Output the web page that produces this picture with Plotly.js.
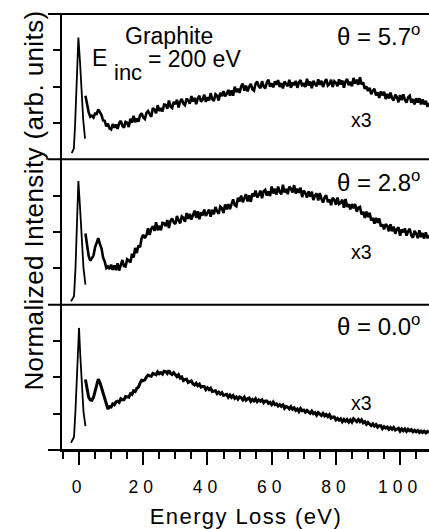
<!DOCTYPE html>
<html><head><meta charset="utf-8">
<script src="https://cdn.plot.ly/plotly-3.0.1.min.js"></script>
<style>
html,body{margin:0;padding:0;background:#fff;}
#chart{width:429px;height:529px;}
.xtick text{letter-spacing:5px;}
.annotation[data-index="0"] text{letter-spacing:0.4px;}
.annotation[data-index="1"] text{letter-spacing:1.4px;}
</style></head>
<body><div id="chart"></div>
<script>
// ---------- data ----------
const energyLoss = [2,2.5,3,3.5,4,4.5,5,5.5,6,6.5,7,7.5,8,8.5,9,9.5,10,10.5,11,11.5,12,12.5,13,13.5,14,14.5,15,15.5,16,16.5,17,17.5,18,18.5,19,19.5,20,20.5,21,21.5,22,22.5,23,23.5,24,24.5,25,25.5,26,26.5,27,27.5,28,28.5,29,29.5,30,30.5,31,31.5,32,32.5,33,33.5,34,34.5,35,35.5,36,36.5,37,37.5,38,38.5,39,39.5,40,40.5,41,41.5,42,42.5,43,43.5,44,44.5,45,45.5,46,46.5,47,47.5,48,48.5,49,49.5,50,50.5,51,51.5,52,52.5,53,53.5,54,54.5,55,55.5,56,56.5,57,57.5,58,58.5,59,59.5,60,60.5,61,61.5,62,62.5,63,63.5,64,64.5,65,65.5,66,66.5,67,67.5,68,68.5,69,69.5,70,70.5,71,71.5,72,72.5,73,73.5,74,74.5,75,75.5,76,76.5,77,77.5,78,78.5,79,79.5,80,80.5,81,81.5,82,82.5,83,83.5,84,84.5,85,85.5,86,86.5,87,87.5,88,88.5,89,89.5,90,90.5,91,91.5,92,92.5,93,93.5,94,94.5,95,95.5,96,96.5,97,97.5,98,98.5,99,99.5,100,100.5,101,101.5,102,102.5,103,103.5,104,104.5,105,105.5,106,106.5,107,107.5,108,108.5,109];

const intensityX3_57 = [
1.75,1.47,1.30,1.17,1.20,1.15,1.26,1.25,1.37,1.30,
1.22,1.07,1.06,0.91,0.98,0.85,0.82,0.97,0.87,0.96,
0.84,0.99,1.06,0.93,0.87,1.03,1.01,0.89,1.12,1.01,
1.20,1.02,1.12,1.04,1.21,1.27,1.15,1.11,1.28,1.33,
1.26,1.17,1.41,1.37,1.27,1.49,1.33,1.41,1.32,1.51,
1.50,1.39,1.62,1.45,1.41,1.58,1.52,1.64,1.43,1.59,
1.66,1.53,1.49,1.67,1.62,1.53,1.74,1.59,1.69,1.52,
1.68,1.75,1.59,1.64,1.78,1.58,1.71,1.62,1.82,1.66,
1.61,1.79,1.75,1.62,1.83,1.74,1.88,1.73,1.81,1.91,
1.75,1.90,1.75,2.00,1.85,1.94,1.83,2.01,2.08,1.89,
2.03,1.87,2.00,2.08,1.93,1.89,2.08,2.14,2.01,1.96,
2.15,2.01,1.95,2.12,2.19,2.00,2.09,1.98,2.15,2.05,
2.18,1.99,2.10,1.95,2.14,2.08,2.01,2.19,1.97,2.12,
2.04,2.16,1.97,2.12,2.18,2.01,2.10,1.99,2.22,2.03,
2.14,1.96,2.16,2.08,2.01,2.20,2.05,2.16,1.99,2.12,
2.21,2.03,2.07,2.19,1.99,2.15,2.11,2.01,2.20,2.06,
2.17,1.97,2.14,2.21,2.04,2.13,2.01,2.24,2.08,2.19,
2.05,2.26,2.06,2.12,1.94,2.01,1.88,1.97,1.79,1.89,
1.94,1.76,1.84,1.69,1.87,1.76,1.86,1.66,1.80,1.68,
1.84,1.68,1.62,1.78,1.72,1.57,1.77,1.63,1.79,1.64,
1.56,1.71,1.75,1.56,1.66,1.51,1.68,1.56,1.68,1.51,
1.65,1.51,1.61,1.45,1.55];

const intensityX3_28 = [
1.96,1.58,1.34,1.21,1.27,1.35,1.58,1.69,1.83,1.67,
1.55,1.30,1.19,1.01,1.05,0.98,1.10,0.96,1.08,0.95,
1.14,0.94,1.12,1.23,1.06,1.05,1.25,1.22,1.16,1.40,
1.30,1.56,1.42,1.63,1.58,1.83,1.92,1.83,1.91,2.10,
1.92,2.09,2.16,2.03,2.27,2.05,2.17,2.05,2.25,2.24,
2.16,2.33,2.11,2.31,2.37,2.26,2.22,2.44,2.32,2.24,
2.43,2.39,2.28,2.52,2.36,2.50,2.34,2.47,2.59,2.39,
2.57,2.35,2.54,2.46,2.62,2.44,2.54,2.62,2.42,2.61,
2.49,2.69,2.57,2.50,2.70,2.66,2.52,2.76,2.62,2.77,
2.63,2.79,2.90,2.74,2.71,2.94,2.84,3.00,2.82,2.93,
3.04,2.84,3.01,2.83,3.06,2.98,3.14,2.95,3.02,3.14,
2.93,3.12,3.16,3.00,3.12,2.99,3.25,3.06,3.19,3.03,
3.25,3.10,3.04,3.30,3.09,3.19,3.04,3.25,3.19,3.09,
3.29,3.06,3.19,3.08,3.22,2.96,3.14,3.07,2.95,3.12,
2.97,3.11,2.88,3.01,3.06,2.87,3.07,2.91,2.81,2.96,
3.01,2.82,2.90,2.74,2.94,2.89,2.75,2.95,2.77,2.80,
2.89,2.67,2.91,2.69,2.77,2.62,2.77,2.65,2.77,2.56,
2.67,2.69,2.48,2.56,2.39,2.56,2.41,2.53,2.32,2.39,
2.23,2.39,2.25,2.37,2.15,2.21,2.07,2.22,2.17,2.02,
2.21,2.02,2.15,1.95,2.08,2.13,1.90,2.07,1.99,2.10,
1.90,2.02,2.09,1.90,1.84,2.03,1.96,1.83,2.05,1.86,
1.97,1.82,1.99,1.83,1.91];

const intensityX3_00 = [
1.94,1.66,1.45,1.38,1.37,1.45,1.62,1.80,1.95,1.86,
1.72,1.55,1.39,1.23,1.13,1.19,1.18,1.27,1.24,1.32,
1.34,1.31,1.41,1.38,1.38,1.47,1.47,1.45,1.55,1.53,
1.63,1.61,1.70,1.73,1.84,1.92,1.91,1.93,2.01,2.06,
2.04,2.03,2.11,2.10,2.07,2.15,2.10,2.13,2.09,2.17,
2.16,2.11,2.19,2.11,2.08,2.13,2.08,2.02,2.07,1.98,
2.01,1.91,1.94,1.95,1.86,1.87,1.90,1.82,1.79,1.84,
1.77,1.81,1.73,1.75,1.75,1.66,1.71,1.66,1.70,1.61,
1.63,1.63,1.55,1.59,1.54,1.58,1.50,1.51,1.53,1.45,
1.51,1.45,1.50,1.42,1.46,1.40,1.46,1.44,1.38,1.45,
1.37,1.41,1.43,1.34,1.39,1.35,1.41,1.33,1.38,1.34,
1.38,1.30,1.35,1.35,1.28,1.31,1.25,1.32,1.25,1.27,
1.21,1.25,1.20,1.24,1.15,1.20,1.18,1.13,1.19,1.12,
1.16,1.09,1.13,1.06,1.14,1.08,1.10,1.04,1.09,1.05,
1.01,1.07,1.00,1.03,0.96,1.03,1.00,0.95,1.01,0.94,
0.98,0.92,0.97,0.88,0.91,0.91,0.83,0.87,0.82,0.86,
0.78,0.84,0.79,0.84,0.77,0.83,0.77,0.86,0.82,0.78,
0.84,0.78,0.83,0.75,0.78,0.71,0.76,0.72,0.67,0.72,
0.66,0.70,0.63,0.67,0.67,0.59,0.64,0.60,0.63,0.57,
0.62,0.57,0.62,0.55,0.58,0.60,0.52,0.58,0.53,0.58,
0.51,0.57,0.53,0.56,0.50,0.54,0.50,0.54,0.48,0.52,
0.48,0.52,0.47,0.51,0.48];

const elasticE_57 = [-2.28,-1.6,-1.2,-0.7,-0.2,0.3,0.8,1.3,1.87];
const elasticI_57 = [0.17,0.30,1.0,2.2,3.35,2.7,1.8,1.1,0.57];
const elasticE_28 = [-2.5,-1.56,-1.1,-0.6,-0.2,0.3,0.8,1.4,2.0];
const elasticI_28 = [0.09,0.23,1.0,2.3,3.4,2.7,1.8,1.0,0.55];
const elasticE_00 = [-2.5,-1.56,-1.1,-0.6,0.0,0.4,0.9,1.4,2.0];
const elasticI_00 = [0.20,0.36,1.1,2.3,3.36,2.6,1.7,1.05,0.66];

const thetaLabels = ['5.7','2.8','0.0'];
const scaleLabel = 'x3';
const xTickVals = [0,20,40,60,80,100];

// ---------- layout helpers (pixel -> paper) ----------
const W = 429, H = 529, L = 62, R = 0, T = 14, B = 79;
const pw = W - L - R, ph = H - T - B;
const px = v => (v - L) / pw;
const py = v => (H - B - v) / ph;

const font = '"Liberation Sans", Arial, Helvetica, sans-serif';
const black = '#000';

const traces = [];
const panels = [
  {ax:'y',  e:elasticE_57, i:elasticI_57, x3:intensityX3_57, w:2.6},
  {ax:'y2', e:elasticE_28, i:elasticI_28, x3:intensityX3_28, w:2.6},
  {ax:'y3', e:elasticE_00, i:elasticI_00, x3:intensityX3_00, w:3.0}
];
panels.forEach(p => {
  traces.push({x:p.e, y:p.i, yaxis:p.ax, xaxis:'x', mode:'lines', line:{color:black, width:1.8}, hoverinfo:'skip', showlegend:false});
  traces.push({x:energyLoss, y:p.x3, yaxis:p.ax, xaxis:'x', mode:'lines', line:{color:black, width:p.w}, hoverinfo:'skip', showlegend:false});
});

const yax = dom => ({
  domain: dom, range:[0,4], showgrid:false, zeroline:false,
  showline:true, linecolor:black, linewidth:2,
  tickmode:'array', tickvals:[1,2,3], ticks:'outside', ticklen:7, tickwidth:2, tickcolor:black,
  showticklabels:false, fixedrange:true, anchor:'x'
});

const annotations = [
  {text:'Normalized Intensity (arb. units)', textangle:-90, xref:'paper', yref:'paper', x:px(34), y:py(201), xanchor:'center', yanchor:'middle', showarrow:false, font:{family:font, size:26, color:black}},
  {text:'Energy Loss (eV)', xref:'paper', yref:'paper', x:px(246), y:py(516), xanchor:'center', yanchor:'middle', showarrow:false, font:{family:font, size:22, color:black}},
  {text:'Graphite', xref:'paper', yref:'paper', x:px(169), y:py(36), xanchor:'center', yanchor:'middle', showarrow:false, borderpad:0, font:{family:font, size:23, color:black}},
  {text:'E', xref:'paper', yref:'paper', x:px(99.5), y:py(58), xanchor:'center', yanchor:'middle', showarrow:false, borderpad:0, font:{family:font, size:23, color:black}},
  {text:'inc', xref:'paper', yref:'paper', x:px(127.5), y:py(72), xanchor:'center', yanchor:'middle', showarrow:false, borderpad:0, font:{family:font, size:22, color:black}},
  {text:'= 200 eV', xref:'paper', yref:'paper', x:px(194), y:py(59), xanchor:'center', yanchor:'middle', showarrow:false, borderpad:0, font:{family:font, size:23, color:black}}
];
const thetaBase = [45, 191, 335];
const x3Base = [127, 258, 409];
thetaLabels.forEach((t, k) => {
  annotations.push({text:'\u03b8 = ' + t + '<sup>o</sup>', xref:'paper', yref:'paper', x:px(337), y:py(thetaBase[k] + 5), xanchor:'left', yanchor:'bottom', showarrow:false, borderpad:0, borderwidth:0, font:{family:font, size:24, color:black}});
  annotations.push({text:scaleLabel, xref:'paper', yref:'paper', x:px(361), y:py(x3Base[k] - 6.5), xanchor:'center', yanchor:'middle', showarrow:false, font:{family:font, size:19.5, color:black}});
});

const shapes = [0, 1/3, 2/3, 1].map(yy => ({type:'line', xref:'paper', yref:'paper', x0:px(48), x1:1.01, y0:yy, y1:yy, line:{color:black, width:2}}));

const layout = {
  width:W, height:H, margin:{l:L, r:R, t:T, b:B, pad:0},
  paper_bgcolor:'#fff', plot_bgcolor:'#fff',
  font:{family:font, color:black},
  showlegend:false,
  xaxis:{
    range:[-5.3, 109], anchor:'y3', showgrid:false, zeroline:false,
    showline:true, linecolor:black, linewidth:2,
    tickmode:'array', tickvals:xTickVals, ticks:'outside', ticklen:13, tickwidth:2, tickcolor:black,
    minor:{tickmode:'linear', tick0:0, dtick:5, ticks:'outside', ticklen:7, tickwidth:2, tickcolor:black, showgrid:false},
    tickfont:{family:font, size:17.5, color:black}, ticklabelstandoff:7, fixedrange:true
  },
  yaxis: yax([2/3, 1]),
  yaxis2: yax([1/3, 2/3]),
  yaxis3: yax([0, 1/3]),
  annotations, shapes
};

Plotly.newPlot('chart', traces, layout, {displayModeBar:false, staticPlot:true});
</script>
</body></html>
